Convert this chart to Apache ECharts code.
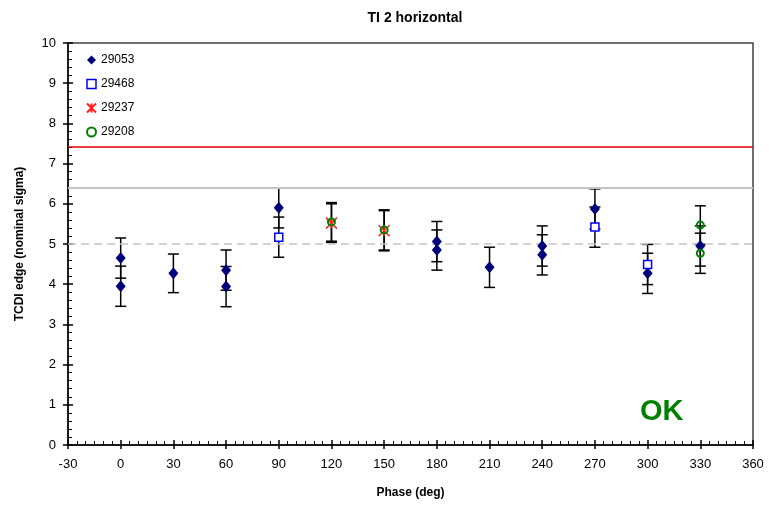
<!DOCTYPE html>
<html>
<head>
<meta charset="utf-8">
<title>TI 2 horizontal</title>
<script src="https://cdn.jsdelivr.net/npm/echarts@6/dist/echarts.min.js"></script>
<style>
  html, body { margin: 0; padding: 0; background: #fff; }
  #chart { width: 769px; height: 511px; }
</style>
</head>
<body>
<div id="chart"></div>
<script>
// phase (deg), value (nominal sigma), error half-width per point
var phase29053 = [0, 0, 30, 60, 60, 90, 180, 180, 210, 240, 240, 270, 300, 330];
var value29053 = [4.65, 3.95, 4.27, 4.35, 3.94, 5.90, 5.06, 4.85, 4.42, 4.95, 4.73, 5.87, 4.27, 4.95];
var err29053   = [0.5, 0.5, 0.48, 0.5, 0.5, 0.5, 0.5, 0.5, 0.5, 0.5, 0.5, 0.5, 0.5, 0.5];

var phase29468 = [90, 270, 300];
var value29468 = [5.17, 5.42, 4.49];
var err29468   = [0.5, 0.5, 0.5];

var phase29237 = [120, 150];
var value29237 = [5.52, 5.33];
var err29237   = [0.48, 0.5];

var phase29208 = [120, 150, 330, 330];
var value29208 = [5.55, 5.35, 5.47, 4.77];
var err29208   = [0.48, 0.5, 0.48, 0.5];

var xTicks = { min: -30, max: 360, step: 30 };
var yTicks = { min: 0, max: 10, step: 1 };

// horizontal reference levels
var redLevel = 7.41;
var grayLevel = 6.39;
var nominalLevel = 5.0;

function pts(xs, ys) {
  return xs.map(function (x, i) { return [x, ys[i]]; });
}
function errPts(xs, ys, es) {
  return xs.map(function (x, i) { return [x, ys[i], es[i]]; });
}

function renderErr(params, api) {
  var x = api.value(0), y = api.value(1), e = api.value(2);
  var top = api.coord([x, y + e]);
  var bot = api.coord([x, y - e]);
  var w = 5.5;
  var style = { stroke: '#000', lineWidth: 1.5 };
  return {
    type: 'group',
    children: [
      { type: 'line', shape: { x1: top[0], y1: top[1], x2: bot[0], y2: bot[1] }, style: style },
      { type: 'line', shape: { x1: top[0] - w, y1: top[1], x2: top[0] + w, y2: top[1] }, style: style },
      { type: 'line', shape: { x1: bot[0] - w, y1: bot[1], x2: bot[0] + w, y2: bot[1] }, style: style }
    ]
  };
}

function errSeries(xs, ys, es) {
  return {
    type: 'custom',
    renderItem: renderErr,
    data: errPts(xs, ys, es),
    z: 2,
    silent: true,
    encode: { x: 0, y: 1 }
  };
}

var starPath = 'path://M0,0L10,10M10,0L0,10M5,0L5,10';
var font = 'Liberation Sans, Arial, sans-serif';

var chart = echarts.init(document.getElementById('chart'));
var option = {
  animation: false,
  backgroundColor: '#fff',
  textStyle: { fontFamily: font },
  title: {
    text: 'TI 2 horizontal',
    left: 410,
    textAlign: 'center',
    top: 6,
    textStyle: { fontSize: 14, fontWeight: 'bold', color: '#000', fontFamily: font }
  },
  legend: {
    orient: 'vertical',
    left: 81,
    top: 49,
    itemWidth: 9,
    itemHeight: 9,
    itemGap: 12,
    textStyle: { fontSize: 12, color: '#000', fontFamily: font },
    data: [
      { name: '29053' },
      { name: '29468', itemStyle: { borderWidth: 1.5 } },
      { name: '29237' },
      { name: '29208' }
    ]
  },
  grid: {
    left: 68, right: 16, top: 43, bottom: 66,
    show: true,
    borderColor: '#404040',
    borderWidth: 1.5
  },
  xAxis: [{
    type: 'value',
    min: xTicks.min, max: xTicks.max, interval: xTicks.step,
    name: 'Phase (deg)',
    nameLocation: 'middle',
    nameGap: 42,
    nameTextStyle: { fontSize: 12, fontWeight: 'bold', color: '#000', fontFamily: font },
    axisLine: { show: true, onZero: false, lineStyle: { color: '#000', width: 1.5 } },
    axisTick: { show: true, inside: false, length: 4, lineStyle: { color: '#000', width: 1.5 } },
    axisLabel: { color: '#000', fontSize: 13, margin: 13, fontFamily: font },
    splitLine: { show: false }
  }, {
    type: 'value',
    position: 'bottom',
    min: xTicks.min, max: xTicks.max, interval: xTicks.step,
    axisLine: { show: false, onZero: false },
    axisTick: { show: true, inside: true, length: 5, lineStyle: { color: '#000', width: 1.5 } },
    minorTick: { show: true, splitNumber: 6, length: 4, lineStyle: { color: '#000', width: 1 } },
    axisLabel: { show: false },
    splitLine: { show: false }
  }],
  yAxis: [{
    type: 'value',
    min: yTicks.min, max: yTicks.max, interval: yTicks.step,
    name: 'TCDI edge (nominal sigma)',
    nameLocation: 'middle',
    nameGap: 42,
    nameTextStyle: { fontSize: 12, fontWeight: 'bold', color: '#000', fontFamily: font },
    axisLine: { show: true, onZero: false, lineStyle: { color: '#000', width: 1.5 } },
    axisTick: { show: true, inside: false, length: 5, lineStyle: { color: '#000', width: 1.5 } },
    axisLabel: { color: '#000', fontSize: 13, margin: 12, fontFamily: font },
    splitLine: { show: false }
  }, {
    type: 'value',
    position: 'left',
    min: yTicks.min, max: yTicks.max, interval: yTicks.step,
    axisLine: { show: false, onZero: false },
    axisTick: { show: true, inside: true, length: 5, lineStyle: { color: '#000', width: 1.5 } },
    minorTick: { show: true, splitNumber: 5, length: 4, lineStyle: { color: '#000', width: 1 } },
    axisLabel: { show: false },
    splitLine: { show: false }
  }],
  graphic: [{
    type: 'text',
    left: 640,
    top: 397,
    style: { text: 'OK', fontSize: 29, fontWeight: 'bold', fill: '#008000', fontFamily: font }
  }],
  series: [
    {
      name: 'levels',
      type: 'line',
      data: [],
      silent: true,
      markLine: {
        silent: true,
        symbol: 'none',
        label: { show: false },
        data: [
          { yAxis: redLevel, lineStyle: { color: '#e00000', width: 1.5, type: 'solid' } },
          { yAxis: grayLevel, lineStyle: { color: '#c4c4c4', width: 2, type: 'solid' } },
          { yAxis: nominalLevel, lineStyle: { color: '#c4c4c4', width: 1.5, type: [8, 5] } }
        ]
      },
      z: 1
    },
    errSeries(phase29053, value29053, err29053),
    errSeries(phase29468, value29468, err29468),
    errSeries(phase29237, value29237, err29237),
    errSeries(phase29208, value29208, err29208),
    {
      name: '29053',
      type: 'scatter',
      symbol: 'diamond',
      symbolSize: [10, 12],
      itemStyle: { color: '#00007a', opacity: 1 },
      data: pts(phase29053, value29053),
      z: 5
    },
    {
      name: '29468',
      type: 'scatter',
      symbol: 'rect',
      symbolSize: 8,
      itemStyle: { color: '#fff', borderColor: '#0000ff', borderWidth: 1.5, opacity: 1 },
      data: pts(phase29468, value29468),
      z: 5
    },
    {
      name: '29237',
      type: 'scatter',
      symbol: starPath,
      symbolSize: 11,
      itemStyle: { color: '#ff2020', borderColor: '#ff2020', borderWidth: 1.5, opacity: 1 },
      data: pts(phase29237, value29237),
      z: 5
    },
    {
      name: '29208',
      type: 'scatter',
      symbol: 'circle',
      symbolSize: 7,
      itemStyle: { color: 'rgba(0,0,0,0)', borderColor: '#008000', borderWidth: 2, opacity: 1 },
      data: pts(phase29208, value29208),
      z: 6
    }
  ]
};
chart.setOption(option);
</script>
</body>
</html>
